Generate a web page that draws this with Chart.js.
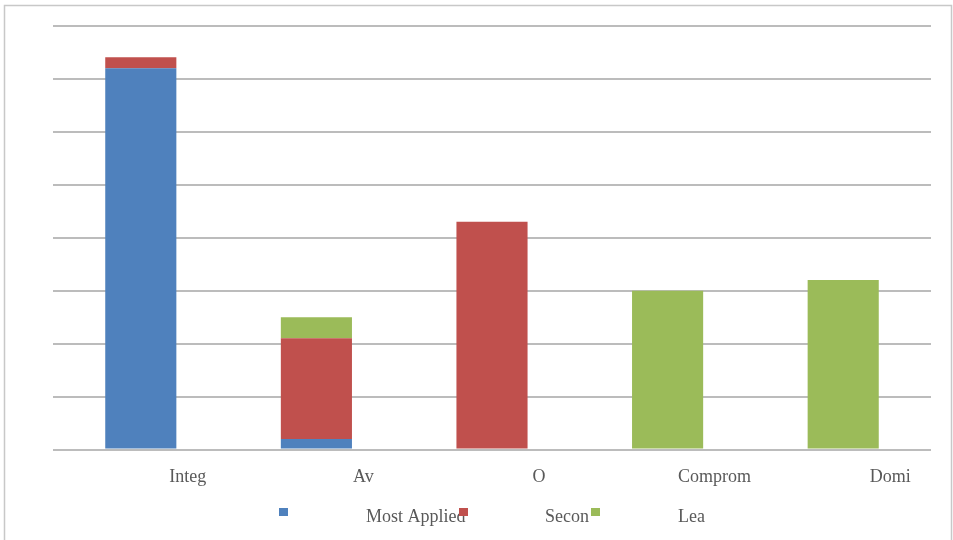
<!DOCTYPE html>
<html>
<head>
<meta charset="utf-8">
<script src="https://cdn.jsdelivr.net/npm/chart.js@4"></script>
<style>
  html, body { margin: 0; padding: 0; background: #fff; }
  #wrap { width: 953px; height: 540px; }
</style>
</head>
<body>
<div id="wrap"><canvas id="styleChart"></canvas></div>
<script>
// data (one gridline = 10 units)
const categories = ["Integ", "Av", "O", "Comprom", "Domi"];
const seriesNames = ["Most Applied", "Secon", "Lea"];
const mostApplied = [72, 2, null, null, null];
const secondApplied = [2.1, 19, 43, null, null];
const leastApplied = [null, 4, null, 30, 32];
const seriesColors = ["#4f81bd", "#c0504d", "#9bbb59"];

document.addEventListener("DOMContentLoaded", function () {
    const textColor = "#595959";
    const serif = "'Liberation Serif', 'DejaVu Serif', serif";

    // outer frame + the odd legend of the original
    const framePlugin = {
        id: "frame",
        beforeDraw(chart) {
            const ctx = chart.ctx;
            ctx.save();
            ctx.fillStyle = "#fff";
            ctx.fillRect(0, 0, chart.width, chart.height);
            ctx.strokeStyle = "#c8c8c8";
            ctx.lineWidth = 1.5;
            ctx.strokeRect(4.5, 5.5, 947, 600);
            ctx.restore();
        },
        afterDraw(chart) {
            const ctx = chart.ctx;
            const textX = [366, 545, 678];
            const boxX = [279, 459, 591];
            ctx.save();
            ctx.font = "18px " + serif;
            ctx.fillStyle = textColor;
            ctx.textBaseline = "alphabetic";
            seriesNames.forEach((name, i) => ctx.fillText(name, textX[i], 522));
            seriesColors.forEach((c, i) => {
                ctx.fillStyle = c;
                ctx.fillRect(boxX[i], 508, 9, 8);
            });
            ctx.restore();
        }
    };

    const el = document.getElementById("styleChart");
    new Chart(el.getContext("2d"), {
        type: "bar",
        data: {
            labels: categories,
            datasets: [
                { label: seriesNames[0], data: mostApplied, backgroundColor: seriesColors[0] },
                { label: seriesNames[1], data: secondApplied, backgroundColor: seriesColors[1] },
                { label: seriesNames[2], data: leastApplied, backgroundColor: seriesColors[2] }
            ]
        },
        options: {
            responsive: true,
            maintainAspectRatio: false,
            animation: false,
            layout: { padding: { left: 53, right: 22, top: 26, bottom: 0 } },
            datasets: { bar: { categoryPercentage: 1, barPercentage: 0.405, borderWidth: 0 } },
            plugins: {
                legend: { display: false },
                tooltip: { enabled: false }
            },
            scales: {
                x: {
                    stacked: true,
                    grid: { display: false, drawTicks: false },
                    border: { display: false },
                    afterFit: s => { s.height = 90.5; },
                    ticks: {
                        padding: 17,
                        labelOffset: 47,
                        maxRotation: 0,
                        color: textColor,
                        font: { family: serif, size: 18 }
                    }
                },
                y: {
                    stacked: true,
                    min: 0,
                    max: 80,
                    afterFit: s => { s.width = 0; },
                    ticks: { display: false, stepSize: 10 },
                    border: { display: false },
                    grid: { color: "#bcbcbc", lineWidth: 2, drawTicks: false }
                }
            }
        },
        plugins: [framePlugin]
    });
});
</script>
</body>
</html>
